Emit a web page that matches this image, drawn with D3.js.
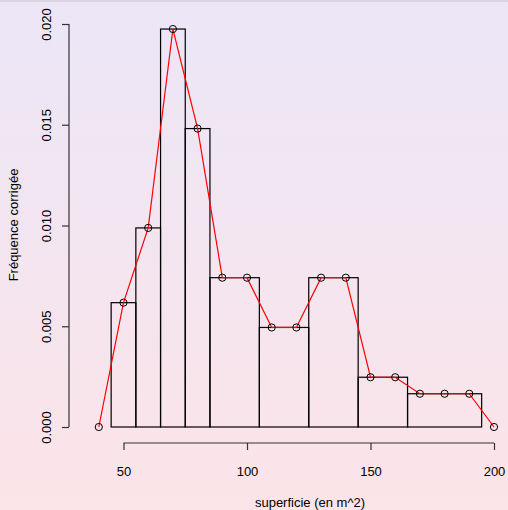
<!DOCTYPE html>
<html lang="fr">
<head>
<meta charset="utf-8">
<title>Histogramme superficie</title>
<script src="https://cdn.jsdelivr.net/npm/d3@7"></script>
<style>
  html, body { margin: 0; padding: 0; }
  body { width: 508px; height: 510px; overflow: hidden; }
  text { font-family: "Liberation Sans", Arial, sans-serif; font-size: 13px; fill: #000; }
</style>
</head>
<body>
<script>
// histogram classes (bornes) and corrected frequencies
var breaks = [45, 55, 65, 75, 85, 105, 125, 145, 165, 195];
var densities = [0.00617, 0.00988, 0.01975, 0.01481, 0.00741, 0.00494, 0.00741, 0.00247, 0.00165];

// frequency polygon points
var polyX = [40, 50, 60, 70, 80, 90, 100, 110, 120, 130, 140, 150, 160, 170, 180, 190, 200];
var polyY = [0, 0.00617, 0.00988, 0.01975, 0.01481, 0.00741, 0.00741, 0.00494, 0.00494,
             0.00741, 0.00741, 0.00247, 0.00247, 0.00165, 0.00165, 0.00165, 0];

var xTicks = [50, 100, 150, 200];
var yTicks = [0, 0.005, 0.010, 0.015, 0.020];

var w = 508, h = 510;

var svg = d3.select("body").append("svg")
  .attr("width", w)
  .attr("height", h);

// background gradient
var grad = svg.append("defs").append("linearGradient")
  .attr("id", "bg").attr("x1", 0).attr("y1", 0).attr("x2", 0).attr("y2", 1);
grad.append("stop").attr("offset", "0%").attr("stop-color", "#ebe6f7");
grad.append("stop").attr("offset", "100%").attr("stop-color", "#fce4e8");
svg.append("rect").attr("width", w).attr("height", h).attr("fill", "url(#bg)");
svg.append("rect").attr("width", w).attr("height", 2).attr("fill", "#dcd4e2");

var x = d3.scaleLinear().domain([50, 200]).range([123.5, 494]);
var y = d3.scaleLinear().domain([0, 0.02]).range([427, 24]);

// bars
var bins = densities.map(function(d, i) {
  return { x0: breaks[i], x1: breaks[i + 1], v: d };
});
svg.selectAll("rect.bar")
  .data(bins)
  .enter()
  .append("rect")
  .attr("class", "bar")
  .attr("x", function(d) { return x(d.x0); })
  .attr("y", function(d) { return y(d.v); })
  .attr("width", function(d) { return x(d.x1) - x(d.x0); })
  .attr("height", function(d) { return y(0) - y(d.v); })
  .attr("fill", "none")
  .attr("stroke", "#000")
  .attr("stroke-width", 1.2);

// polygon
var pts = polyX.map(function(d, i) { return [d, polyY[i]]; });
svg.append("path")
  .datum(pts)
  .attr("fill", "none")
  .attr("stroke", "#ff0000")
  .attr("stroke-width", 1.2)
  .attr("d", d3.line().x(function(d) { return x(d[0]); }).y(function(d) { return y(d[1]); }));

svg.selectAll("circle")
  .data(pts)
  .enter()
  .append("circle")
  .attr("cx", function(d) { return x(d[0]); })
  .attr("cy", function(d) { return y(d[1]); })
  .attr("r", 3.6)
  .attr("fill", "none")
  .attr("stroke", "#000")
  .attr("stroke-width", 1);

// x axis
var xAxis = d3.axisBottom(x).tickValues(xTicks).tickSize(7).tickPadding(17)
  .tickFormat(d3.format("d"));
var gx = svg.append("g").attr("transform", "translate(0,443)").call(xAxis);
gx.select(".domain").attr("stroke", "#333").attr("stroke-width", 1.2);
gx.selectAll(".tick line").attr("stroke", "#333").attr("stroke-width", 1.2);
gx.selectAll(".tick text").style("font-size", "13px").attr("font-family", null);

// y axis
var yAxis = d3.axisLeft(y).tickValues(yTicks).tickSize(7).tickFormat(d3.format(".3f"));
var gy = svg.append("g").attr("transform", "translate(69,0)").call(yAxis);
gy.select(".domain").attr("stroke", "#333").attr("stroke-width", 1.2);
gy.selectAll(".tick line").attr("stroke", "#333").attr("stroke-width", 1.2);
gy.selectAll(".tick text")
  .attr("x", null).attr("dy", null)
  .attr("text-anchor", "middle")
  .attr("transform", "translate(-18,0) rotate(-90)")
  .style("font-size", "13px");
svg.selectAll(".domain").attr("d", function() {
  return d3.select(this.parentNode).attr("transform") === "translate(69,0)"
    ? "M0," + y(0) + "V" + y(0.02)
    : "M" + x(50) + ",0H" + x(200);
});
svg.selectAll("g.tick text").attr("font-family", null);

// titles
svg.append("text")
  .attr("x", 310).attr("y", 507)
  .attr("text-anchor", "middle")
  .text("superficie (en m^2)");
svg.append("text")
  .attr("transform", "translate(18,225) rotate(-90)")
  .attr("text-anchor", "middle")
  .text("Fréquence corrigée");
</script>
</body>
</html>
